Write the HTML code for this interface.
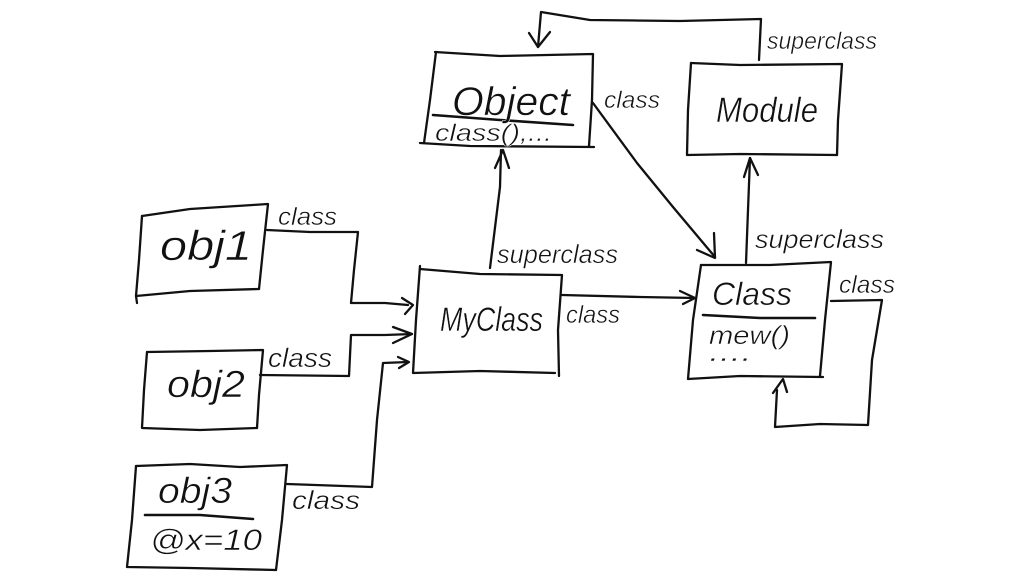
<!DOCTYPE html>
<html><head><meta charset="utf-8"><style>
html,body{margin:0;padding:0;background:#fff;width:1024px;height:581px;overflow:hidden}
svg{display:block;filter:blur(.35px)}
.l{fill:none;stroke:#111;stroke-width:2.3;stroke-linecap:round;stroke-linejoin:round}
.u{fill:none;stroke:#111;stroke-width:2.6;stroke-linecap:round}
text{font-family:"Liberation Sans",sans-serif;font-style:italic;fill:#111;stroke:#fff;stroke-width:.5}
</style></head><body>
<svg width="1024" height="581" viewBox="0 0 1024 581" xmlns="http://www.w3.org/2000/svg">
<!-- boxes -->
<path class="l" d="M435 52 L500 56 L593 54 L592 100 L589 146"/>
<path class="l" d="M436 52 L430 100 L424 143"/>
<path class="l" d="M420 143 L470 146 L594 147"/>
<path class="u" d="M433 115 L500 120 L573 125"/>
<path class="l" d="M691 63 L740 65 L842 64 L838 120 L837 155"/>
<path class="l" d="M691 63 L688 110 L687 155 L740 154 L837 155"/>
<path class="l" d="M420 269 L480 274 L562 275 L558 330 L559 376"/>
<path class="l" d="M420 266 L416 320 L413 373 L480 371 L555 373"/>
<path class="l" d="M701 265 L770 265 L831 262 L825 320 L820 376"/>
<path class="l" d="M701 265 L693 320 L688 379 L740 376 L823 377"/>
<path class="u" d="M703 315 L760 318 L815 318"/>
<path class="l" d="M142 216 L190 209 L268 204 L263 250 L259 289"/>
<path class="l" d="M142 216 L139 260 L136 296 L137 303"/>
<path class="l" d="M136 296 L190 291 L259 289"/>
<path class="l" d="M147 352 L210 351 L263 350 L259 395 L257 428"/>
<path class="l" d="M147 352 L144 390 L142 428 L200 430 L257 428"/>
<path class="l" d="M136 466 L190 464 L240 467 L287 465 L282 520 L276 570"/>
<path class="l" d="M136 466 L132 520 L127 567 L190 568 L276 570"/>
<path class="u" d="M145 515 L200 515 L253 519"/>
<!-- connectors -->
<path class="l" d="M759 60 L761 19 L680 21 L590 20 L541 12 L538 47"/>
<path class="l" d="M529 33 L538 47 L550 32"/>
<path class="l" d="M593 103 L637 163 L673 207 L715 257"/>
<path class="l" d="M714 233 L715 258 L697 250"/>
<path class="l" d="M746 263 L748 210 L750 158"/>
<path class="l" d="M744 177 L750 158 L758 175"/>
<path class="l" d="M490 268 L500 187 L501 150"/>
<path class="l" d="M495 168 L503 150 L509 168"/>
<path class="l" d="M562 295 L640 297 L695 298"/>
<path class="l" d="M680 291 L695 298 L683 304"/>
<path class="l" d="M831 301 L882 300 L872 360 L868 425 L820 424 L775 427 L777 390"/>
<path class="l" d="M773 393 L783 379 L787 392"/>
<path class="l" d="M267 230 L310 232 L358 232 L354 270 L351 303 L385 303 L408 305"/>
<path class="l" d="M402 298 L413 305 L405 314"/>
<path class="l" d="M260 375 L349 376 L351 335 L385 335 L412 334"/>
<path class="l" d="M393 327 L412 334 L393 343"/>
<path class="l" d="M287 484 L372 487 L377 420 L383 363 L408 362"/>
<path class="l" d="M398 357 L409 362 L399 368"/>
<!-- labels -->
<text x="767" y="49" font-size="24" textLength="110" lengthAdjust="spacingAndGlyphs">superclass</text>
<text x="604" y="108" font-size="24" textLength="56" lengthAdjust="spacingAndGlyphs">class</text>
<text x="452" y="115" font-size="40" textLength="118" lengthAdjust="spacingAndGlyphs">Object</text>
<text x="435" y="141" font-size="24" textLength="117" lengthAdjust="spacingAndGlyphs">class(),...</text>
<text x="716" y="122" font-size="35" textLength="102" lengthAdjust="spacingAndGlyphs">Module</text>
<text x="755" y="248" font-size="26" textLength="129" lengthAdjust="spacingAndGlyphs">superclass</text>
<text x="497" y="263" font-size="26" textLength="121" lengthAdjust="spacingAndGlyphs">superclass</text>
<text x="278" y="225" font-size="25" textLength="59" lengthAdjust="spacingAndGlyphs">class</text>
<text x="268" y="367" font-size="27" textLength="64" lengthAdjust="spacingAndGlyphs">class</text>
<text x="292" y="509" font-size="26" textLength="68" lengthAdjust="spacingAndGlyphs">class</text>
<text x="566" y="323" font-size="25" textLength="54" lengthAdjust="spacingAndGlyphs">class</text>
<text x="839" y="293" font-size="25" textLength="56" lengthAdjust="spacingAndGlyphs">class</text>
<text x="160" y="260" font-size="42" textLength="92" lengthAdjust="spacingAndGlyphs">obj1</text>
<text x="167" y="397" font-size="38" textLength="78" lengthAdjust="spacingAndGlyphs">obj2</text>
<text x="158" y="503" font-size="36" textLength="74" lengthAdjust="spacingAndGlyphs">obj3</text>
<text x="150" y="550" font-size="30" textLength="112" lengthAdjust="spacingAndGlyphs">@x=10</text>
<text x="440" y="331" font-size="34" textLength="103" lengthAdjust="spacingAndGlyphs">MyClass</text>
<text x="712" y="305" font-size="32" textLength="80" lengthAdjust="spacingAndGlyphs">Class</text>
<text x="709" y="344" font-size="26" textLength="81" lengthAdjust="spacingAndGlyphs">mew()</text>
<text x="709" y="361" font-size="26" textLength="43" lengthAdjust="spacingAndGlyphs">....</text>
</svg>
</body></html>
